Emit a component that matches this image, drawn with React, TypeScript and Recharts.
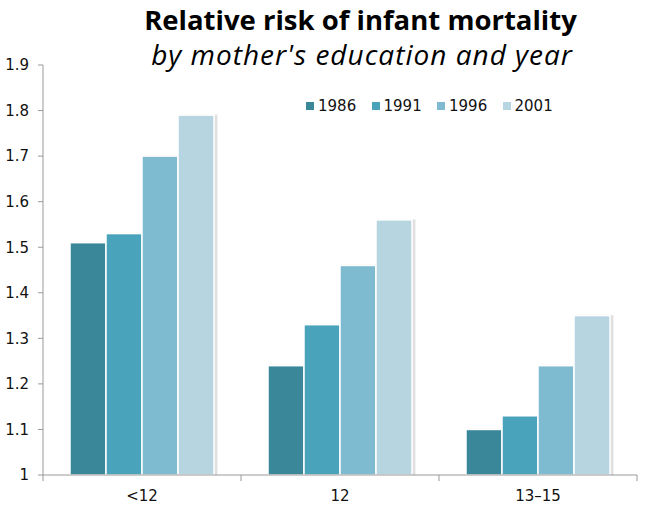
import React from "react";
import { Bar, BarChart, XAxis, YAxis } from "recharts";

const CATEGORIES = ["<12", "12", "13–15"];
const YEARS = ["1986", "1991", "1996", "2001"];
const COLORS = ["#3a879a", "#49a3bb", "#7fbbd0", "#b7d5e1"];

const V1986 = [1.51, 1.24, 1.1];
const V1991 = [1.53, 1.33, 1.13];
const V1996 = [1.7, 1.46, 1.24];
const V2001 = [1.79, 1.56, 1.35];

const Y_TICKS = [1, 1.1, 1.2, 1.3, 1.4, 1.5, 1.6, 1.7, 1.8, 1.9];

const SERIES = [V1986, V1991, V1996, V2001];
const data = CATEGORIES.map((c, i) => {
  const row: Record<string, string | number> = { cat: c, idx: i };
  YEARS.forEach((y, j) => {
    row[y] = SERIES[j][i];
  });
  return row;
});

const tickFont = {
  fontFamily: "DejaVu Sans",
  fontSize: 15,
  fill: "#111",
};

// category labels at integers, boundary ticks at the half steps
const X_TICKS = [-0.5, 0, 0.5, 1, 1.5, 2, 2.5];
const PLOT_BOTTOM = 475;

function XTick(props: any) {
  const { x, payload } = props;
  const v = payload.value;
  if (!Number.isInteger(v)) {
    return <line x1={x} x2={x} y1={PLOT_BOTTOM} y2={PLOT_BOTTOM + 6} stroke="#999" />;
  }
  return (
    <text x={x} y={PLOT_BOTTOM + 26} textAnchor="middle" {...tickFont}>
      {CATEGORIES[v]}
    </text>
  );
}

function ShadowBar(props: any) {
  const { x, y, width, height, fill } = props;
  if (!height || height <= 0) return null;
  return (
    <g>
      <rect x={x + 1} y={y - 1} width={width + 3} height={height + 1} fill="#000" opacity={0.05} />
      <rect x={x + 1} y={y} width={width + 2} height={height} fill="#000" opacity={0.07} />
      <rect x={x} y={y} width={width} height={height} fill={fill} stroke="#fff" strokeWidth={1.5} />
    </g>
  );
}

function LegendBox() {
  return (
    <div
      style={{
        position: "absolute",
        top: 96,
        left: 306,
        display: "flex",
        fontFamily: "DejaVu Sans",
        fontSize: 15,
        color: "#111",
        lineHeight: "20px",
      }}
    >
      {YEARS.map((y, i) => (
        <div key={y} style={{ display: "flex", alignItems: "center", width: 65.5 }}>
          <span style={{ width: 8, height: 8, background: COLORS[i], display: "inline-block", marginRight: 4 }} />
          <span>{y}</span>
        </div>
      ))}
    </div>
  );
}

export default function App() {
  return (
    <div style={{ position: "absolute", left: 0, top: 0, width: 648, height: 514, background: "#fff" }}>
      <div
        style={{
          position: "absolute",
          left: 0,
          width: 721,
          top: 3,
          textAlign: "center",
          fontFamily: "Open Sans",
          fontWeight: 700,
          fontSize: 27.5,
          color: "#000",
          lineHeight: "34px",
        }}
      >
        Relative risk of infant mortality
      </div>
      <div
        style={{
          position: "absolute",
          left: 0,
          width: 724,
          top: 37,
          textAlign: "center",
          fontFamily: "Open Sans",
          fontStyle: "italic",
          fontSize: 28,
          letterSpacing: 1,
          color: "#000",
          lineHeight: "34px",
        }}
      >
        by mother's education and year
      </div>
      <BarChart
        width={648}
        height={514}
        data={data}
        margin={{ top: 65, right: 11, bottom: 0, left: 0 }}
        barCategoryGap={27}
        barGap={0}
        style={{ position: "absolute", left: 0, top: 0 }}
      >
        <XAxis
          type="number"
          dataKey="idx"
          domain={[-0.5, 2.5]}
          ticks={X_TICKS}
          interval={0}
          tick={<XTick />}
          tickLine={false}
          tickSize={0}
          stroke="#999"
          height={39}
          allowDataOverflow
        />
        <YAxis
          domain={[1, 1.9]}
          ticks={Y_TICKS}
          interval={0}
          width={43}
          tick={tickFont}
          tickSize={5}
          tickMargin={9}
          stroke="#999"
          allowDataOverflow
        />
        {YEARS.map((y, i) => (
          <Bar
            key={y}
            dataKey={y}
            fill={COLORS[i]}
            shape={<ShadowBar />}
            isAnimationActive={false}
          />
        ))}
      </BarChart>
      <LegendBox />
    </div>
  );
}
